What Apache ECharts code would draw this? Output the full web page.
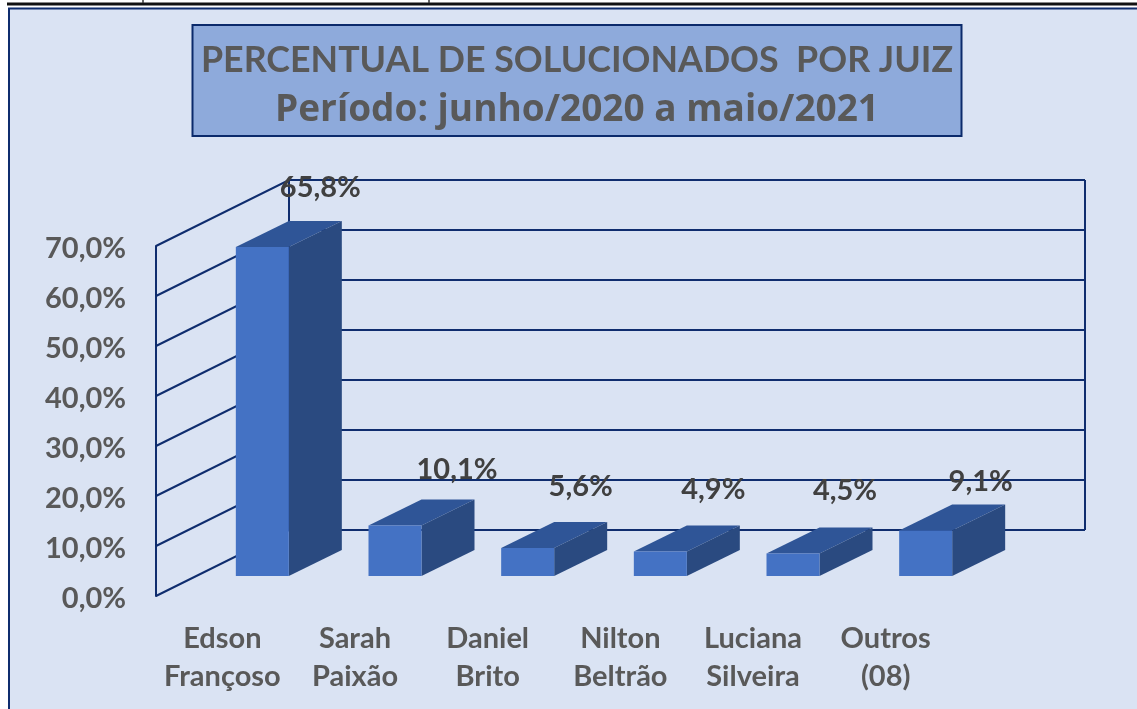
<!DOCTYPE html>
<html>
<head>
<meta charset="utf-8">
<style>html,body{margin:0;padding:0;background:#fff;overflow:hidden}#c{width:1137px;height:709px}</style>
<script src="https://cdn.jsdelivr.net/npm/echarts@6/dist/echarts.min.js"></script>
</head>
<body>
<div id="c"></div>
<script>
const categories = ['Edson\nFrançoso','Sarah\nPaixão','Daniel\nBrito','Nilton\nBeltrão','Luciana\nSilveira','Outros\n(08)'];
const percentValues = [65.8, 10.1, 5.6, 4.9, 4.5, 9.1];
const yTicks = [0, 10, 20, 30, 40, 50, 60, 70];
const titleLines = ['PERCENTUAL DE SOLUCIONADOS  POR JUIZ', 'Período: junho/2020 a maio/2021'];

const NAVY = '#0f2d6e', FRONT = '#4472c4', TOP = '#2f5597', SIDE = '#2a4a80';
const FONT = 'Lato, "Open Sans", sans-serif';
const WALL_DX = 133, WALL_DY = -66;      // depth of the back wall
const BAR_DX = 40, BAR_DY = -20;         // bar front plane
const DEPTH_DX = 53, DEPTH_DY = -26;     // bar depth
const BAR_HALF = 26.5;
const LABEL_NUDGE = [[58,-59],[62,-56],[53,-61],[53,-62],[52,-63],[55,-49]];
const fmt = v => v.toFixed(1).replace('.', ',') + '%';

const chart = echarts.init(document.getElementById('c'), null, {renderer:'canvas'});

function wall(params, api) {
  const cs = params.coordSys;
  const p = api.coord([0, api.value(1)]);
  const x0 = cs.x, x1 = cs.x + cs.width, y = p[1];
  const st = {stroke: NAVY, lineWidth: 2, fill: 'none'};
  const kids = [
    {type:'polyline', shape:{points:[[x0,y],[x0+WALL_DX,y+WALL_DY],[x1+WALL_DX,y+WALL_DY]]}, style:st}
  ];
  if (params.dataIndex === 0) {
    const top = cs.y;
    kids.push({type:'line', shape:{x1:x0+WALL_DX,y1:y+WALL_DY,x2:x0+WALL_DX,y2:top+WALL_DY}, style:st});
    kids.push({type:'line', shape:{x1:x1+WALL_DX,y1:y+WALL_DY,x2:x1+WALL_DX,y2:top+WALL_DY}, style:st});
  }
  return {type:'group', children:kids};
}

function bar3d(params, api) {
  const i = api.value(0), v = api.value(1);
  const t = api.coord([i, v]), b = api.coord([i, 0]);
  const l = t[0] + BAR_DX - BAR_HALF, r = t[0] + BAR_DX + BAR_HALF;
  const yt = t[1] + BAR_DY, yb = b[1] + BAR_DY;
  const n = LABEL_NUDGE[i];
  return {type:'group', children:[
    {type:'polygon', shape:{points:[[l,yt],[r,yt],[r+DEPTH_DX,yt+DEPTH_DY],[l+DEPTH_DX,yt+DEPTH_DY]]}, style:{fill:TOP}},
    {type:'polygon', shape:{points:[[r,yt],[r+DEPTH_DX,yt+DEPTH_DY],[r+DEPTH_DX,yb+DEPTH_DY],[r,yb]]}, style:{fill:SIDE}},
    {type:'rect', shape:{x:l,y:yt,width:r-l,height:yb-yt}, style:{fill:FRONT}},
    {type:'text', z2:10, style:{x:t[0]+BAR_DX+n[0], y:yt+n[1], text:fmt(v), textAlign:'center', textVerticalAlign:'middle',
      font:'bold 29px '+FONT, fill:'#404040'}}
  ]};
}

chart.setOption({
  animation:false,
  backgroundColor:'#ffffff',
  title:{
    text:'{a|'+titleLines[0]+'}\n{b|'+titleLines[1]+'}',
    left:572, top:30, textAlign:'center',
    textStyle:{rich:{
      a:{fontFamily:FONT, fontWeight:'bold', fontSize:35.8, lineHeight:50, color:'#595959', align:'center'},
      b:{fontFamily:'"Open Sans", Lato, sans-serif', fontWeight:'bold', fontSize:37, lineHeight:50, color:'#595959', align:'center'}
    }}
  },
  graphic:{elements:[
    {type:'rect', z:-10, silent:true, shape:{x:9,y:8.5,width:1140,height:710}, style:{fill:'#dae3f3', stroke:NAVY, lineWidth:2}},
    {type:'rect', z:-9, silent:true, shape:{x:192.5,y:25,width:769,height:111}, style:{fill:'#8eaadb', stroke:'#0b2a6b', lineWidth:2}},
    {type:'line', z:-8, silent:true, shape:{x1:7,y1:4,x2:1137,y2:4}, style:{stroke:'#111', lineWidth:3}},
    {type:'line', z:-8, silent:true, shape:{x1:143,y1:0,x2:143,y2:3}, style:{stroke:'#333', lineWidth:1.5}},
    {type:'line', z:-8, silent:true, shape:{x1:429,y1:0,x2:429,y2:3}, style:{stroke:'#333', lineWidth:1.5}}
  ]},
  grid:{left:156, top:246, width:796, height:350, containLabel:false},
  xAxis:{type:'category', data:categories, axisLine:{show:false}, axisTick:{show:false}, splitLine:{show:false},
    axisLabel:{interval:0, margin:24, fontFamily:FONT, fontWeight:'bold', fontSize:29, lineHeight:38, color:'#595959'}},
  yAxis:{type:'value', min:0, max:70, interval:10,
    axisLine:{show:true, lineStyle:{color:NAVY, width:2}}, axisTick:{show:false}, splitLine:{show:false},
    axisLabel:{margin:30, formatter:v=>'{v|'+fmt(v)+'}',
      rich:{v:{padding:[6,0,0,0], fontFamily:FONT, fontWeight:'bold', fontSize:29, color:'#595959'}}}},
  series:[
    {type:'custom', name:'wall', clip:false, z:1, silent:true, renderItem:wall, encode:{x:0,y:1},
      data:yTicks.map(t=>[0,t])},
    {type:'custom', name:'Percentual', clip:false, z:2, silent:true, renderItem:bar3d, encode:{x:0,y:1},
      data:percentValues.map((v,i)=>[i,v])}
  ]
});
</script>
</body>
</html>
